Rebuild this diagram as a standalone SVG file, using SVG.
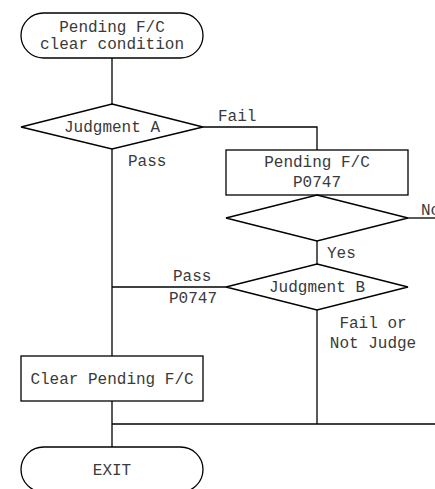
<svg xmlns="http://www.w3.org/2000/svg" width="435" height="489" viewBox="0 0 435 489">
  <style>
    .shape { fill: #ffffff; stroke: #000000; stroke-width: 1.3; }
    .wire { fill: none; stroke: #000000; stroke-width: 1.3; }
    text { font-family: "Liberation Mono", "Courier New", monospace; font-size: 16px; fill: #3a3a3a; }
    .c { text-anchor: middle; }
  </style>
  <rect width="435" height="489" fill="#ffffff"/>

  <!-- connectors -->
  <g id="connectors">
    <path class="wire" d="M112 58 V104"/>
    <path class="wire" d="M203 127 H317 V150"/>
    <path class="wire" d="M408 218 H435"/>
    <path class="wire" d="M317 241 V264"/>
    <path class="wire" d="M226 287 H112"/>
    <path class="wire" d="M112 149 V356"/>
    <path class="wire" d="M317 310 V424"/>
    <path class="wire" d="M112 401 V447"/>
    <path class="wire" d="M112 424 H435"/>
    <text x="218" y="121">Fail</text>
    <text x="128" y="166">Pass</text>
    <text x="421" y="215">No</text>
    <text x="327" y="258">Yes</text>
    <text x="173" y="281">Pass</text>
    <text x="169" y="303">P0747</text>
    <text class="c" x="373" y="328">Fail or</text>
    <text class="c" x="373" y="348">Not Judge</text>
  </g>

  <g id="start">
    <rect class="shape" x="21" y="13" width="182" height="45" rx="22.5" ry="22.5"/>
    <text class="c" x="112" y="32">Pending F/C</text>
    <text class="c" x="112" y="49">clear condition</text>
  </g>

  <g id="judgment-a">
    <polygon class="shape" points="112,104 203,127 112,149 21,127"/>
    <text class="c" x="112" y="132">Judgment A</text>
  </g>

  <g id="pending-p0747">
    <rect class="shape" x="226" y="150" width="182" height="45"/>
    <text class="c" x="317" y="167">Pending F/C</text>
    <text class="c" x="317" y="187">P0747</text>
  </g>

  <g id="check">
    <polygon class="shape" points="317,195 408,218 317,241 226,218"/>
  </g>

  <g id="judgment-b">
    <polygon class="shape" points="317,264 408,287 317,310 226,287"/>
    <text class="c" x="317" y="292">Judgment B</text>
  </g>

  <g id="clear-pending">
    <rect class="shape" x="21" y="356" width="182" height="45"/>
    <text class="c" x="112" y="384">Clear Pending F/C</text>
  </g>

  <g id="exit">
    <rect class="shape" x="21" y="447" width="182" height="45" rx="22.5" ry="22.5"/>
    <text class="c" x="112" y="475">EXIT</text>
  </g>
</svg>
